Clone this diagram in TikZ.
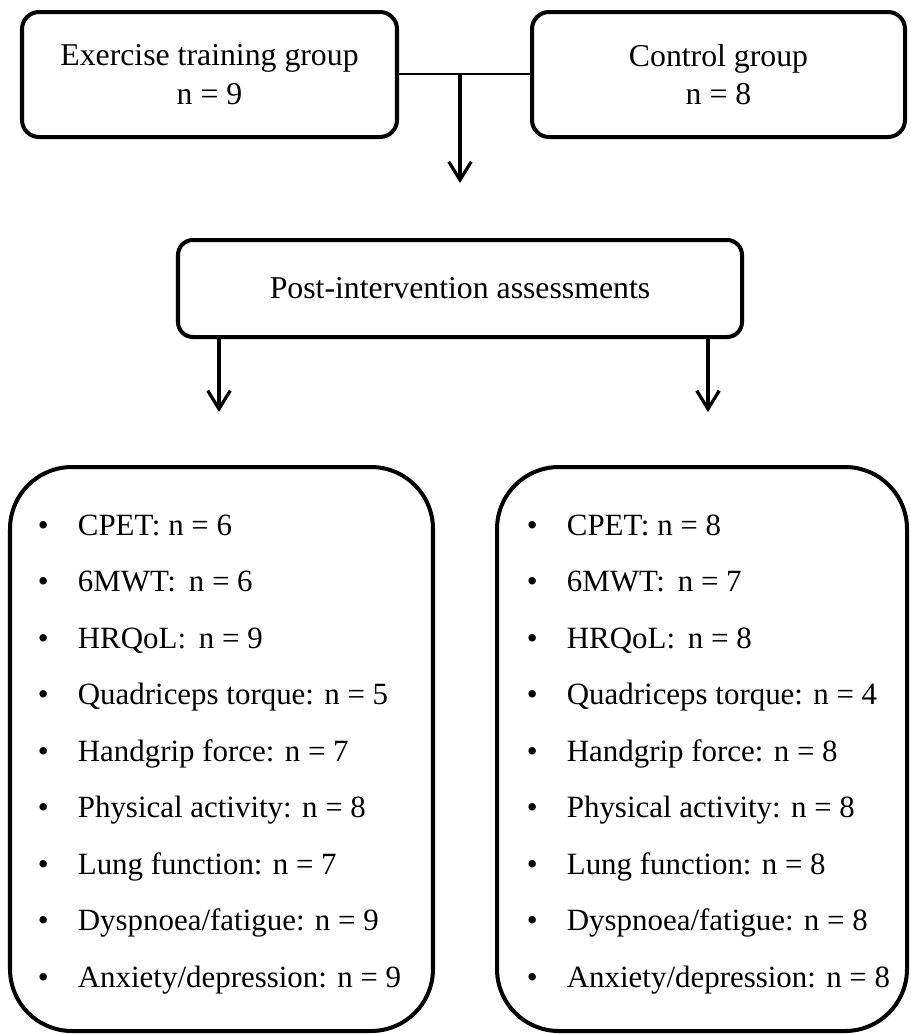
\documentclass[tikz,border=0pt]{standalone}
\usepackage{fontspec}
\setmainfont{Liberation Serif}
\usepackage{tikz}
\usetikzlibrary{arrows.meta}
\newcommand{\itm}[1]{\makebox[1cm][l]{\textbullet}#1}

\begin{document}
\begin{tikzpicture}[
    grpbox/.style={draw,line width=2.85pt,rounded corners=0.425cm,align=center,inner sep=0pt,
      font=\fontsize{22.6}{27.5}\selectfont},
    listbox/.style={draw,line width=2.85pt,rounded corners=1.55cm,minimum height=14.1cm},
    item/.style={anchor=base west,inner sep=0pt,font=\fontsize{22}{27}\selectfont},
    flow/.style={-{Straight Barb[length=13pt,width=16pt]},line width=2.3pt},
    link/.style={line width=1.1pt}]
  \useasboundingbox (0,0) rectangle (22.775,-25.85);

  \node[grpbox,minimum width=9.375cm,minimum height=3.125cm] (exer) at (5.2375,-1.8625) {Exercise training group\\n = 9};
  \node[grpbox,minimum width=9.325cm,minimum height=3.125cm] (ctrl) at (17.9625,-1.8625) {Control group\\n = 8};
  \coordinate (split) at (11.5,-1.85);
  \coordinate (mend) at (11.5,-4.575);

  \node[grpbox,minimum width=14.1cm,minimum height=2.425cm,rounded corners=0.375cm] (post) at (11.5,-7.2125) {Post-intervention assessments};
  \coordinate (lend) at (5.475,-10.3);
  \coordinate (rend) at (17.7,-10.3);

  \node[listbox,minimum width=10.575cm] (lbox) at (5.5375,-18.725) {};
  \node[listbox,minimum width=10.25cm] (rbox) at (17.55,-18.725) {};

  \draw [link] (exer.east |- split) -- (ctrl.west |- split);
  \draw [flow] (split) -- (mend);
  \draw [flow] (post.south -| lend) -- (lend);
  \draw [flow] (post.south -| rend) -- (rend);

  % exercise group
  \node[item] (l1) at (0.94,-13.375) {\itm{CPET: n = 6}};
  \node[item] (l2) at (0.94,-14.7875) {\itm{6MWT:\, n = 6}};
  \node[item] (l3) at (0.94,-16.2) {\itm{HRQoL:\, n = 9}};
  \node[item] (l4) at (0.94,-17.6125) {\itm{Quadriceps torque: n = 5}};
  \node[item] (l5) at (0.94,-19.025) {\itm{Handgrip force: n = 7}};
  \node[item] (l6) at (0.94,-20.4375) {\itm{Physical activity: n = 8}};
  \node[item] (l7) at (0.94,-21.85) {\itm{Lung function: n = 7}};
  \node[item] (l8) at (0.94,-23.2625) {\itm{Dyspnoea/fatigue: n = 9}};
  \node[item] (l9) at (0.94,-24.675) {\itm{Anxiety/depression: n = 9}};

  % control group
  \node[item] (r1) at (13.165,-13.375) {\itm{CPET: n = 8}};
  \node[item] (r2) at (13.165,-14.7875) {\itm{6MWT:\, n = 7}};
  \node[item] (r3) at (13.165,-16.2) {\itm{HRQoL:\, n = 8}};
  \node[item] (r4) at (13.165,-17.6125) {\itm{Quadriceps torque: n = 4}};
  \node[item] (r5) at (13.165,-19.025) {\itm{Handgrip force: n = 8}};
  \node[item] (r6) at (13.165,-20.4375) {\itm{Physical activity: n = 8}};
  \node[item] (r7) at (13.165,-21.85) {\itm{Lung function: n = 8}};
  \node[item] (r8) at (13.165,-23.2625) {\itm{Dyspnoea/fatigue: n = 8}};
  \node[item] (r9) at (13.165,-24.675) {\itm{Anxiety/depression: n = 8}};
\end{tikzpicture}
\end{document}
